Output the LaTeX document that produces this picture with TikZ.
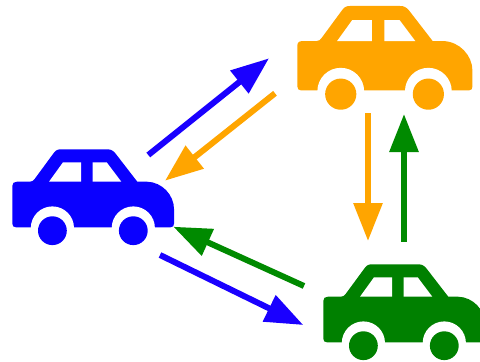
\documentclass[tikz,border=0pt]{standalone}
\usetikzlibrary{arrows.meta}
\definecolor{carblue}{RGB}{10,0,255}
\definecolor{arrowblue}{RGB}{26,0,255}
\definecolor{carorange}{RGB}{255,165,0}
\definecolor{cargreen}{RGB}{0,128,0}
\definecolor{arrowgreen}{RGB}{0,138,0}
\tikzset{
  car/.pic={
    \fill[pic actions] (12.3,186) .. controls (12.3,183) and (14,181.7) .. (17,181.7)
      -- (30,181.7) .. controls (32.5,181.7) and (33.5,180.5) .. (35,178.5)
      -- (53,154) .. controls (55.5,150.5) and (57,149.3) .. (61,149.3)
      -- (107,149.3) .. controls (111,149.3) and (113,150.5) .. (115.5,153.5)
      -- (137.3,181.7) -- (147,181.7) .. controls (162,182) and (174,195) .. (174,209)
      -- (174,223.5) .. controls (174,226) and (173,227.3) .. (170.5,227.3)
      -- (16,227.3) .. controls (13.5,227.3) and (12.3,226) .. (12.3,223.5) -- cycle;
    \fill[white] (49,181.7) -- (63,162.3) -- (81.2,162.3) -- (81.2,181.7) -- cycle;
    \fill[white] (92.7,181.7) -- (92.7,162.3) -- (106.7,162.3) -- (121.3,181.7) -- cycle;
    \fill[white] (52.4,228) circle (21.6) (133.3,228) circle (21.6);
    \fill[pic actions] (52.4,230.7) circle (14.4) (133.3,230.7) circle (14.4);
  },
  link/.style={line width=6pt,-{Triangle[length=38pt,width=28pt]}}
}
\begin{document}
\begin{tikzpicture}[x=1pt,y=-1pt]
\useasboundingbox (0,0) rectangle (480,362);
\clip (0,0) rectangle (480,362);
\fill[white] (0,0) rectangle (480,362);
\pic[fill=carblue] {car};
\pic[fill=carorange,shift={(284,-155.7)},scale=1.083] {car};
\pic[fill=cargreen,shift={(311,115)}] {car};
\coordinate (b1) at (148.3,155);
\coordinate (o1) at (269,58.3);
\coordinate (o2) at (275,93.3);
\coordinate (b2) at (165,180.7);
\coordinate (o3) at (368,113);
\coordinate (g1) at (368,241);
\coordinate (g2) at (404,241.7);
\coordinate (o4) at (404,114);
\coordinate (g3) at (304,286);
\coordinate (b3) at (173.3,226.7);
\coordinate (b4) at (160,255);
\coordinate (g4) at (303.3,325);
\draw[link,arrowblue] (b1) -- (o1);
\draw[link,carorange] (o2) -- (b2);
\draw[link,carorange] (o3) -- (g1);
\draw[link,arrowgreen] (g2) -- (o4);
\draw[link,arrowgreen] (g3) -- (b3);
\draw[link,arrowblue] (b4) -- (g4);
\end{tikzpicture}
\end{document}
